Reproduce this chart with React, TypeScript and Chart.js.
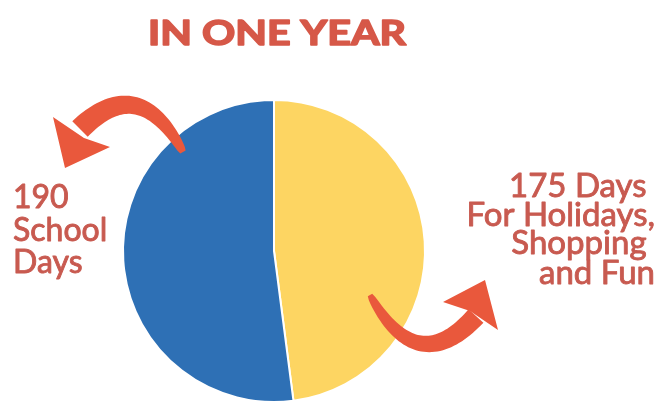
import React, { useEffect, useRef } from "react";
import { Chart, registerables } from "chart.js";

Chart.register(...registerables);

const categories = ["Holidays, Shopping and Fun", "School Days"];
const days = [175, 190];
const sliceColors = ["#FDD562", "#2E70B5"];
const titleText = "IN ONE YEAR";
const leftLabelLines = ["190", "School", "Days"];
const rightLabelLines = ["175 Days ", "For Holidays,", "Shopping ", "and Fun"];

const ARROW = "#E9583C";
const TITLE_COLOR = "#D65848";
const LABEL_COLOR = "#C85A50";

type Pt = [number, number];

function drawArrow(ctx: CanvasRenderingContext2D, cx: number, cy: number, s: Pt, c: Pt, e: Pt, b1: Pt, tip: Pt, b2: Pt, notch: Pt, w0: number, w1: number) {
  const S: Pt = [cx + s[0], cy + s[1]];
  const C: Pt = [cx + c[0], cy + c[1]];
  const E: Pt = [cx + e[0], cy + e[1]];
  const n = 48;
  const left: Pt[] = [];
  const right: Pt[] = [];
  for (let i = 0; i <= n; i++) {
    const t = i / n;
    const x = (1 - t) * (1 - t) * S[0] + 2 * (1 - t) * t * C[0] + t * t * E[0];
    const y = (1 - t) * (1 - t) * S[1] + 2 * (1 - t) * t * C[1] + t * t * E[1];
    const dx = 2 * (1 - t) * (C[0] - S[0]) + 2 * t * (E[0] - C[0]);
    const dy = 2 * (1 - t) * (C[1] - S[1]) + 2 * t * (E[1] - C[1]);
    const len = Math.hypot(dx, dy) || 1;
    const nx = -dy / len;
    const ny = dx / len;
    const w = (w0 + (w1 - w0) * Math.sqrt(t)) / 2;
    left.push([x + nx * w, y + ny * w]);
    right.push([x - nx * w, y - ny * w]);
  }
  ctx.save();
  ctx.fillStyle = ARROW;
  ctx.beginPath();
  ctx.moveTo(left[0][0], left[0][1]);
  for (const p of left) ctx.lineTo(p[0], p[1]);
  for (let i = right.length - 1; i >= 0; i--) ctx.lineTo(right[i][0], right[i][1]);
  ctx.closePath();
  ctx.fill();
  ctx.beginPath();
  ctx.moveTo(cx + b1[0], cy + b1[1]);
  ctx.lineTo(cx + tip[0], cy + tip[1]);
  ctx.lineTo(cx + b2[0], cy + b2[1]);
  ctx.lineTo(cx + notch[0], cy + notch[1]);
  ctx.closePath();
  ctx.fill();
  ctx.restore();
}

const decorPlugin = {
  id: "decor",
  afterDatasetsDraw(chart: any) {
    const ctx: CanvasRenderingContext2D = chart.ctx;
    const arc = chart.getDatasetMeta(0).data[0];
    if (!arc) return;
    const cx = arc.x;
    const cy = arc.y;

    drawArrow(ctx, cx, cy, [-91, -99], [-135, -180], [-194, -122], [-221, -134], [-209, -83], [-164, -104], [-190, -113], 6, 22);
    drawArrow(ctx, cx, cy, [96, 44], [143, 130], [202, 65], [169, 51], [211, 29], [224, 79], [196, 60], 5, 20);

    ctx.save();
    ctx.fillStyle = TITLE_COLOR;
    ctx.strokeStyle = TITLE_COLOR;
    ctx.lineWidth = 1.6;
    ctx.lineJoin = "round";
    ctx.font = "bold 34px Lato";
    ctx.textAlign = "center";
    ctx.textBaseline = "alphabetic";
    const tw = ctx.measureText(titleText).width;
    const sx = 258 / tw;
    ctx.translate(277, 45);
    ctx.scale(sx, 1);
    ctx.fillText(titleText, 0, 0);
    ctx.strokeText(titleText, 0, 0);
    ctx.restore();

    ctx.save();
    ctx.fillStyle = LABEL_COLOR;
    ctx.strokeStyle = LABEL_COLOR;
    ctx.lineWidth = 0.9;
    ctx.lineJoin = "round";
    ctx.font = "32px Lato";
    ctx.textAlign = "left";
    ctx.textBaseline = "alphabetic";
    const lb = [208, 241, 273];
    leftLabelLines.forEach((l, i) => {
      ctx.fillText(l, 13, lb[i]);
      ctx.strokeText(l, 13, lb[i]);
    });

    ctx.font = "33px Lato";
    ctx.textAlign = "right";
    const rb = [197, 226, 254, 284];
    rightLabelLines.forEach((l, i) => {
      ctx.fillText(l, 655, rb[i]);
      ctx.strokeText(l, 655, rb[i]);
    });
    ctx.restore();
  },
};

export default function App() {
  const ref = useRef<HTMLCanvasElement>(null);
  useEffect(() => {
    document.body.style.margin = "0";
    const chart = new Chart(ref.current as HTMLCanvasElement, {
      type: "pie",
      data: {
        labels: categories,
        datasets: [
          {
            data: days,
            backgroundColor: sliceColors,
            borderColor: "#ffffff",
            borderWidth: 2,
          },
        ],
      },
      options: {
        animation: false,
        responsive: false,
        maintainAspectRatio: false,
        layout: { padding: { left: 122, right: 236, top: 99, bottom: 3 } },
        plugins: {
          legend: { display: false },
          tooltip: { enabled: false },
          title: { display: false },
        },
      },
      plugins: [decorPlugin],
    });
    return () => chart.destroy();
  }, []);
  return (
    <div style={{ width: 662, height: 406, background: "#fff" }}>
      <canvas ref={ref} width={662} height={406} style={{ width: 662, height: 406 }} />
    </div>
  );
}
